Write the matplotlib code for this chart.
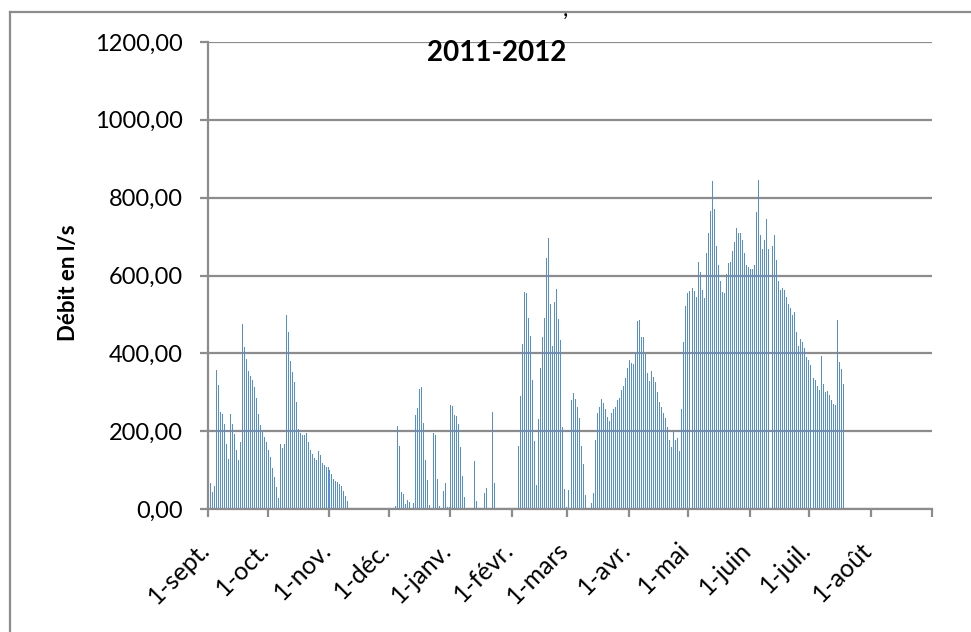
import matplotlib
matplotlib.use("Agg")
import matplotlib.pyplot as plt
import matplotlib.transforms as mtransforms
from matplotlib.lines import Line2D
import numpy as np

plt.rcParams['font.family'] = ['Lato', 'DejaVu Sans']

# ---------------- data (daily flow, l/s) ----------------
month_labels = ['1-sept.', '1-oct.', '1-nov.', '1-déc.', '1-janv.', '1-févr.',
                '1-mars', '1-avr.', '1-mai', '1-juin', '1-juil.', '1-août']
month_days = [30, 31, 30, 31, 31, 28, 31, 30, 31, 30, 31, 31]

sept = [110, 67, 44, 59, 357, 319, 249, 244, 218, 167, 129, 244, 218, 193, 152,
        126, 172, 476, 416, 386, 355, 341, 332, 314, 285, 244, 216, 200, 185, 172]
octo = [152, 134, 105, 82, 57, 28, 167, 157, 167, 499, 455, 380, 352, 327, 275,
        206, 195, 190, 190, 195, 172, 152, 141, 131, 126, 149, 139, 118, 113, 108, 108]
nov = [100, 90, 77, 72, 69, 64, 59, 46, 33, 21, 3, 1, 0, 0, 0,
       0, 0, 0, 0, 0, 0, 0, 0, 0, 0, 0, 0, 0, 0, 0]
dec = [0, 0, 0, 8, 213, 162, 44, 38, 13, 23, 18, 0, 15, 241, 259,
       308, 313, 221, 126, 74, 10, 0, 195, 190, 77, 8, 0, 46, 67, 5, 5]
jan = [267, 264, 241, 238, 218, 159, 85, 31, 0, 0, 0, 0, 123, 21, 0,
       0, 0, 41, 54, 0, 0, 249, 67, 3, 0, 0, 0, 0, 0, 0, 0]
feb = [0, 0, 0, 162, 290, 424, 557, 555, 490, 444, 331, 175, 62, 231,
       362, 442, 490, 645, 696, 526, 419, 532, 565, 488, 434, 211, 51, 5]
mar = [49, 208, 280, 298, 282, 262, 234, 162, 116, 36, 0, 0, 15, 41, 177,
       247, 262, 282, 272, 257, 236, 226, 247, 257, 262, 280, 285, 306, 316, 336, 362]
apr = [383, 375, 372, 400, 483, 485, 441, 441, 398, 349, 328, 354, 339, 326, 300,
       274, 262, 246, 233, 210, 177, 159, 200, 177, 182, 149, 257, 428, 521, 554]
may = [559, 559, 567, 559, 544, 634, 610, 564, 541, 657, 708, 767, 844, 772, 677,
       626, 585, 557, 554, 603, 631, 634, 662, 685, 723, 710, 710, 690, 659, 628, 623]
jun = [616, 616, 628, 762, 846, 703, 669, 690, 744, 669, 0, 677, 703, 641, 585,
       562, 567, 562, 546, 526, 516, 498, 505, 454, 418, 436, 428, 413, 390, 382]
jul = [369, 351, 336, 331, 315, 305, 392, 321, 300, 303, 292, 280, 269, 267, 485,
       377, 359, 321]

y_ticks = [0, 200, 400, 600, 800, 1000, 1200]

flows = np.array(sept + octo + nov + dec + jan + feb + mar + apr + may + jun + jul, dtype=float)
days = np.arange(len(flows))
month_starts = np.concatenate([[0], np.cumsum(month_days)])

# ---------------- figure ----------------
W, H = 971, 632
fig = plt.figure(figsize=(W / 100, H / 100), dpi=100)
fig.patch.set_facecolor('white')

x0, x1, ytop, ybot = 208.3, 932.3, 42, 509
ax = fig.add_axes([x0 / W, 1 - ybot / H, (x1 - x0) / W, (ybot - ytop) / H])

grid_c = '#8C8C8C'
ax.bar(days + 0.35, flows, width=0.5, color='#558ED5', linewidth=0,
       antialiased=False, zorder=3)

ax.set_xlim(0, 365)
ax.set_ylim(0, 1200)

ax.set_yticks(y_ticks)
ax.set_yticklabels([f"{v:.2f}".replace('.', ',') for v in y_ticks], fontsize=17)
ax.yaxis.grid(True, color=grid_c, linewidth=1.6, zorder=0)
ax.set_axisbelow(True)

ax.set_xticks(month_starts)
ax.set_xticklabels(month_labels + [''], fontsize=18, rotation=45,
                   ha='right', va='baseline', rotation_mode='anchor')

for s in ['top', 'right']:
    ax.spines[s].set_visible(False)
for s in ['left', 'bottom']:
    ax.spines[s].set_color(grid_c)
    ax.spines[s].set_linewidth(1.6)
    ax.spines[s].set_zorder(4)

ax.tick_params(axis='y', direction='out', length=5.8, width=1.6, color=grid_c, pad=12.3)
ax.tick_params(axis='x', direction='out', length=5.8, width=1.6, color=grid_c, pad=24.5)

offset = mtransforms.ScaledTranslation(3 / 100, 0, fig.dpi_scale_trans)
for lab in ax.get_xticklabels():
    lab.set_transform(lab.get_transform() + offset)

# titles
fig.text(497 / W, 1 - 53 / H, '2011-2012', fontsize=20, fontweight='bold',
         ha='center', va='center')
fig.text(68 / W, 1 - 283 / H, 'Débit en l/s', fontsize=16, fontweight='bold',
         rotation=90, ha='center', va='center')
fig.text(565 / W, 1.0, ',', fontsize=17, ha='center', va='top')

# chart-area frame (left and top edges visible)
fig.add_artist(Line2D([10 / W, 10 / W], [0, 1 - 12 / H], color=grid_c, linewidth=1.6,
                      transform=fig.transFigure))
fig.add_artist(Line2D([10 / W, 1], [1 - 12 / H, 1 - 12 / H], color=grid_c, linewidth=1.6,
                      transform=fig.transFigure))

fig.savefig('out.png', dpi=100)
